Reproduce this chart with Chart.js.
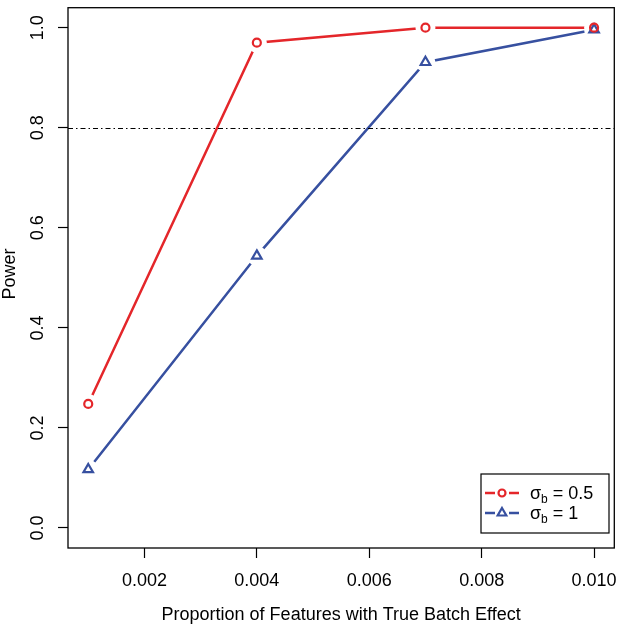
<!DOCTYPE html>
<html>
<head>
<meta charset="utf-8">
<script src="https://cdn.jsdelivr.net/npm/chart.js@4/dist/chart.umd.min.js"></script>
<style>
    html, body { margin: 0; padding: 0; background: #fff; overflow: hidden; }
    #wrap { width: 622px; height: 625px; position: relative; }
</style>
</head>
<body>
<div id="wrap"><canvas id="grafica"></canvas></div>
<script>
const proporciones = [0.001, 0.004, 0.007, 0.010];
const potenciaSigma05 = [0.248, 0.970, 1.000, 1.000];
const potenciaSigma1 = [0.117, 0.544, 0.931, 0.996];
const ticksX = [0.002, 0.004, 0.006, 0.008, 0.010];
const ticksY = [0.0, 0.2, 0.4, 0.6, 0.8, 1.0];
const umbral = 0.8;
const etiquetasSerie = ["0.5", "1"];

const fuente = "'Liberation Sans', Arial, Helvetica, sans-serif";
const rojo = "rgb(228, 38, 42)";
const azul = "rgb(55, 80, 160)";
const radioHueco = 10;

// huecos alrededor de los puntos (estilo type = "b" de R)
const huecos = {
    id: "huecos",
    beforeDatasetDraw(chart, args) {
        const ctx = chart.ctx;
        ctx.save();
        ctx.beginPath();
        ctx.rect(0, 0, chart.width, chart.height);
        args.meta.data.forEach((p) => {
            ctx.moveTo(p.x + radioHueco, p.y);
            ctx.arc(p.x, p.y, radioHueco, 0, Math.PI * 2, true);
        });
        ctx.clip("evenodd");
    },
    afterDatasetDraw(chart, args) {
        chart.ctx.restore();
        args.meta.data.forEach((p) => p.draw(chart.ctx, chart.chartArea));
    }
};

const extras = {
    id: "extras",
    afterDatasetsDraw(chart) {
        const ctx = chart.ctx;
        const { left, top, right, bottom } = chart.chartArea;
        const y = chart.scales.y;

        // linea de umbral
        const yu = Math.round(y.getPixelForValue(umbral)) + 0.5;
        ctx.save();
        ctx.strokeStyle = "#000";
        ctx.lineWidth = 1;
        ctx.setLineDash([5, 3, 1.5, 3]);
        ctx.beginPath();
        ctx.moveTo(left, yu);
        ctx.lineTo(right, yu);
        ctx.stroke();
        ctx.restore();

        // caja
        ctx.save();
        ctx.strokeStyle = "#000";
        ctx.lineWidth = 1.3;
        ctx.strokeRect(left, top, right - left, bottom - top);
        ctx.restore();

        // etiquetas eje y giradas
        ctx.save();
        ctx.fillStyle = "#000";
        ctx.font = "18px " + fuente;
        ctx.textAlign = "center";
        ctx.textBaseline = "middle";
        ticksY.forEach((v) => {
            ctx.save();
            ctx.translate(38, y.getPixelForValue(v));
            ctx.rotate(-Math.PI / 2);
            ctx.fillText(v.toFixed(1), 0, 0);
            ctx.restore();
        });
        ctx.save();
        ctx.translate(10, 274);
        ctx.rotate(-Math.PI / 2);
        ctx.fillText("Power", 0, 0);
        ctx.restore();
        ctx.restore();

        // leyenda
        const lx = 481, ly = 474, lw = 128, lh = 59;
        ctx.save();
        ctx.fillStyle = "#fff";
        ctx.fillRect(lx, ly, lw, lh);
        ctx.strokeStyle = "#000";
        ctx.lineWidth = 1.2;
        ctx.strokeRect(lx, ly, lw, lh);
        const filas = [
            { color: rojo, estilo: "circle", radio: 3.5, y: ly + 19 },
            { color: azul, estilo: "triangle", radio: 5, y: ly + 39 }
        ];
        filas.forEach((f, i) => {
            const cx = lx + 21;
            ctx.strokeStyle = f.color;
            ctx.lineWidth = 2.5;
            ctx.beginPath();
            ctx.moveTo(lx + 4, f.y);
            ctx.lineTo(cx - 7, f.y);
            ctx.moveTo(cx + 7, f.y);
            ctx.lineTo(lx + 38, f.y);
            ctx.stroke();
            ctx.fillStyle = "rgba(0,0,0,0)";
            ctx.lineWidth = 2.2;
            Chart.helpers.drawPoint(ctx, { pointStyle: f.estilo, radius: f.radio, borderWidth: 2.2 }, cx, f.y);
            ctx.fillStyle = "#000";
            ctx.textAlign = "left";
            ctx.textBaseline = "alphabetic";
            ctx.font = "18px " + fuente;
            let tx = lx + 49;
            ctx.fillText("σ", tx, f.y + 6);
            tx += ctx.measureText("σ").width;
            ctx.font = "12px " + fuente;
            ctx.fillText("b", tx, f.y + 10);
            tx += ctx.measureText("b").width;
            ctx.font = "18px " + fuente;
            ctx.fillText(" = " + etiquetasSerie[i], tx, f.y + 6);
        });
        ctx.restore();
    }
};

function puntos(valores) {
    return proporciones.map((x, i) => ({ x: x, y: valores[i] }));
}

new Chart(document.getElementById("grafica"), {
    type: "line",
    data: {
        datasets: [
            {
                label: "sigma 0.5",
                data: puntos(potenciaSigma05),
                borderColor: rojo,
                borderWidth: 2.5,
                pointStyle: "circle",
                pointRadius: 4,
                pointBorderWidth: 2.2,
                pointBorderColor: rojo,
                pointBackgroundColor: "rgba(0,0,0,0)",
                tension: 0
            },
            {
                label: "sigma 1",
                data: puntos(potenciaSigma1),
                borderColor: azul,
                borderWidth: 2.5,
                pointStyle: "triangle",
                pointRadius: 5.5,
                pointBorderWidth: 2.2,
                pointBorderColor: azul,
                pointBackgroundColor: "rgba(0,0,0,0)",
                tension: 0
            }
        ]
    },
    options: {
        responsive: true,
        maintainAspectRatio: false,
        animation: false,
        layout: { padding: { top: 1, right: 0, left: 0, bottom: 0 } },
        plugins: {
            legend: { display: false },
            tooltip: { enabled: false }
        },
        scales: {
            x: {
                type: "linear",
                min: 0.00064,
                max: 0.01036,
                afterBuildTicks: (s) => { s.ticks = ticksX.map((v) => ({ value: v })); },
                afterFit: (s) => {
                    s.height = 77;
                    s.paddingLeft = 0;
                    s.paddingRight = 0;
                },
                border: { display: false },
                grid: { drawOnChartArea: false, drawTicks: true, tickLength: 10, tickColor: "#000", tickWidth: 1.2 },
                ticks: {
                    color: "#000",
                    font: { family: fuente, size: 18 },
                    maxRotation: 0,
                    padding: 12,
                    callback: (v) => v.toFixed(3)
                },
                title: {
                    display: true,
                    text: "Proportion of Features with True Batch Effect",
                    color: "#000",
                    font: { family: fuente, size: 18 },
                    padding: { top: 11, bottom: -1 }
                }
            },
            y: {
                type: "linear",
                min: -0.04,
                max: 1.04,
                afterBuildTicks: (s) => { s.ticks = ticksY.map((v) => ({ value: v })); },
                afterFit: (s) => { s.width = 68; },
                border: { display: false },
                grid: { drawOnChartArea: false, drawTicks: true, tickLength: 10, tickColor: "#000", tickWidth: 1.2 },
                ticks: { display: false }
            }
        }
    },
    plugins: [huecos, extras]
});
</script>
</body>
</html>
